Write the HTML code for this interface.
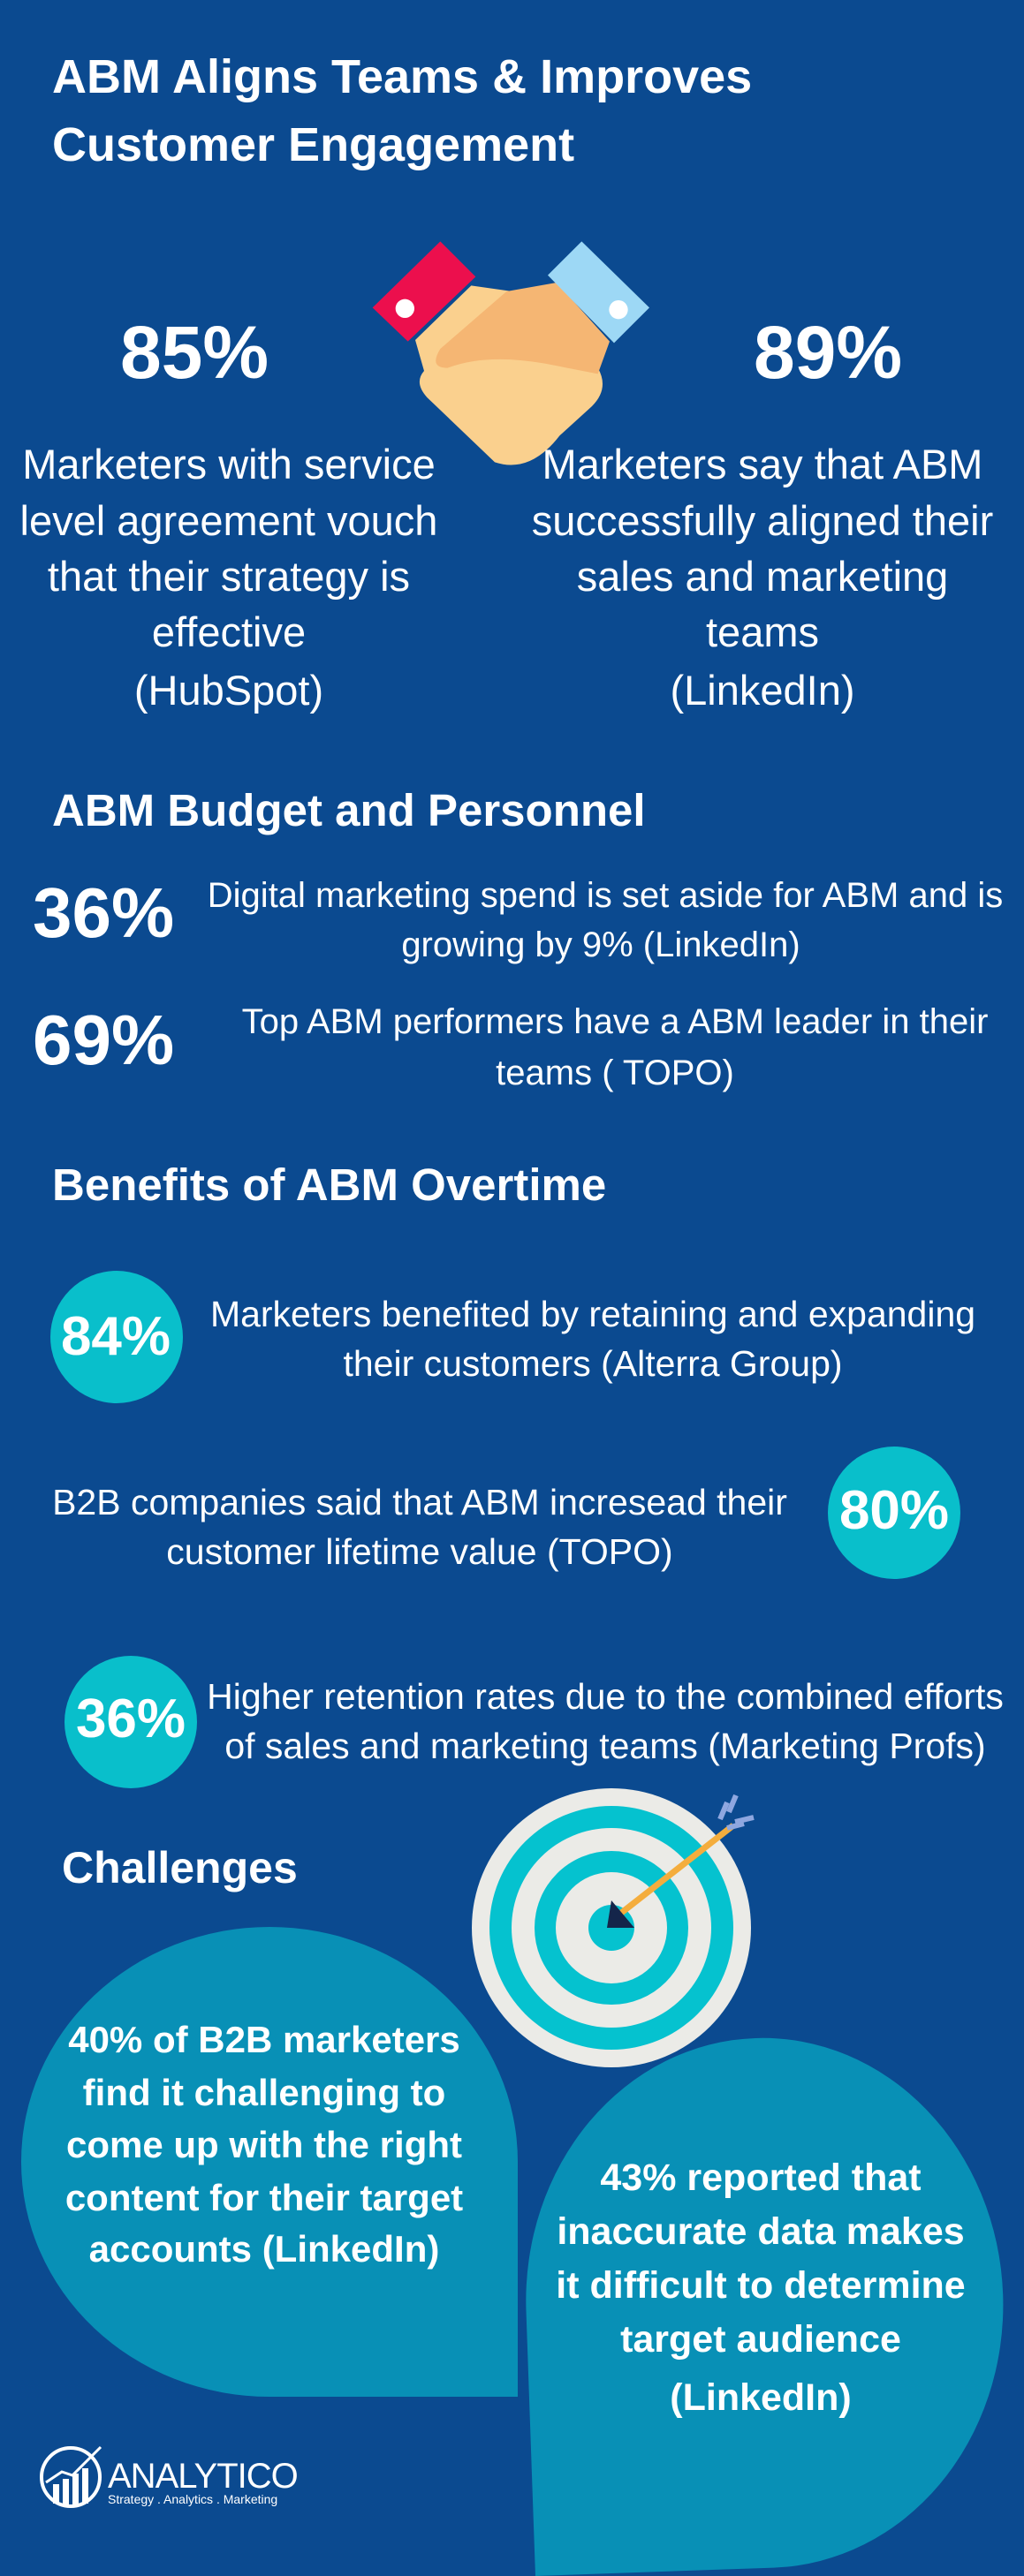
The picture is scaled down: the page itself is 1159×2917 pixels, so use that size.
<!DOCTYPE html>
<html><head><meta charset="utf-8"><style>
*{margin:0;padding:0}
body{width:1159px;height:2880px;background:#0b4a90;position:relative;overflow:hidden;font-family:"Liberation Sans",sans-serif;color:#fff}
.t{position:absolute;line-height:1;white-space:nowrap}
.c{text-align:center;width:1000px}
.b{font-weight:bold}
.circ{position:absolute;width:150px;height:150px;border-radius:50%;background:#09bfcb}
</style></head><body>

<div class="t b" style="left:59px;top:60px;font-size:54px">ABM Aligns Teams &amp; Improves</div>
<div class="t b" style="left:59px;top:137px;font-size:54px">Customer Engagement</div>

<svg style="position:absolute;left:400px;top:260px" width="360" height="280" viewBox="0 0 1080 840">
<path d="M210,375 L400,190 L540,210 L830,470 Q870,540 810,600 L700,700 Q600,830 480,790 L250,570 Q205,520 240,480 Z" fill="#fad08e"/>
<path d="M520,210 L690,180 L870,380 L830,490 L650,455 Q450,420 320,470 Q255,470 295,405 Z" fill="#f5b673"/>
<polygon points="295,40 415,160 185,380 65,265" fill="#ec0f4d"/>
<circle cx="175" cy="268" r="32" fill="#fff"/>
<polygon points="775,40 1005,265 885,385 660,155" fill="#9dd8f5"/>
<circle cx="900" cy="272" r="32" fill="#fff"/>
</svg>

<div class="t c" style="left:-280px;top:357px;font-size:84px;font-weight:bold">85%</div>
<div class="t c" style="left:437px;top:357px;font-size:84px;font-weight:bold">89%</div>

<div class="t c" style="left:-241px;top:502px;font-size:47px">Marketers with service</div>
<div class="t c" style="left:-241px;top:566px;font-size:47px">level agreement vouch</div>
<div class="t c" style="left:-241px;top:629px;font-size:47px">that their strategy is</div>
<div class="t c" style="left:-241px;top:692px;font-size:47px">effective</div>
<div class="t c" style="left:-241px;top:758px;font-size:47px">(HubSpot)</div>

<div class="t c" style="left:363px;top:502px;font-size:47px">Marketers say that ABM</div>
<div class="t c" style="left:363px;top:566px;font-size:47px">successfully aligned their</div>
<div class="t c" style="left:363px;top:629px;font-size:47px">sales and marketing</div>
<div class="t c" style="left:363px;top:692px;font-size:47px">teams</div>
<div class="t c" style="left:363px;top:758px;font-size:47px">(LinkedIn)</div>

<div class="t b" style="left:59px;top:892px;font-size:51px">ABM Budget and Personnel</div>
<div class="t b" style="left:37px;top:994px;font-size:80px">36%</div>
<div class="t c" style="left:185px;top:994px;font-size:40px">Digital marketing spend is set aside for ABM and is</div>
<div class="t c" style="left:180px;top:1050px;font-size:40px">growing by 9% (LinkedIn)</div>
<div class="t b" style="left:37px;top:1138px;font-size:80px">69%</div>
<div class="t c" style="left:196px;top:1137px;font-size:40px">Top ABM performers have a ABM leader in their</div>
<div class="t c" style="left:196px;top:1195px;font-size:40px">teams ( TOPO)</div>

<div class="t b" style="left:59px;top:1316px;font-size:51px">Benefits of ABM Overtime</div>

<div class="circ" style="left:57px;top:1439px"></div>
<div class="t c b" style="left:-369px;top:1483px;font-size:62px">84%</div>
<div class="t c" style="left:171px;top:1468px;font-size:41px">Marketers benefited by retaining and expanding</div>
<div class="t c" style="left:171px;top:1524px;font-size:41px">their customers (Alterra Group)</div>

<div class="circ" style="left:937px;top:1638px"></div>
<div class="t c b" style="left:512px;top:1680px;font-size:62px">80%</div>
<div class="t c" style="left:-25px;top:1681px;font-size:41px">B2B companies said that ABM incresead their</div>
<div class="t c" style="left:-25px;top:1737px;font-size:41px">customer lifetime value (TOPO)</div>

<div class="circ" style="left:73px;top:1875px"></div>
<div class="t c b" style="left:-352px;top:1916px;font-size:62px">36%</div>
<div class="t c" style="left:185px;top:1901px;font-size:41px">Higher retention rates due to the combined efforts</div>
<div class="t c" style="left:185px;top:1957px;font-size:41px">of sales and marketing teams (Marketing Profs)</div>

<div class="t b" style="left:70px;top:2090px;font-size:50px">Challenges</div>

<svg style="position:absolute;left:0;top:0" width="1159" height="2880">
<circle cx="692" cy="2183" r="158" fill="#ebebe7"/>
<circle cx="692" cy="2183" r="138" fill="#05c2cf"/>
<circle cx="692" cy="2183" r="113" fill="#ebebe7"/>
<circle cx="692" cy="2183" r="87" fill="#05c2cf"/>
<circle cx="692" cy="2183" r="63" fill="#ebebe7"/>
<circle cx="692" cy="2183" r="26" fill="#05c2cf"/>
<line x1="702" y1="2167" x2="830" y2="2067" stroke="#f4ad3d" stroke-width="7"/>
<path d="M815,2060 L823,2041 M823,2070 L842,2065 M825,2052 L833,2033 M832,2063 L853,2058" stroke="#8fa7e0" stroke-width="6"/>
<polygon points="692,2152 687,2183 718,2183" fill="#14254a"/>
</svg>

<div style="position:absolute;left:24px;top:2182px;width:562px;height:532px;background:#0890b6;border-radius:50% 50% 0 50%"></div>
<div style="position:absolute;left:606px;top:2317px;width:540px;height:600px;background:#0890b6;border-radius:50% 50% 50% 0;transform:rotate(-2deg);transform-origin:0 100%"></div>

<div class="t c b" style="left:-201px;top:2289px;font-size:42px">40% of B2B marketers</div>
<div class="t c b" style="left:-201px;top:2349px;font-size:42px">find it challenging to</div>
<div class="t c b" style="left:-201px;top:2408px;font-size:42px">come up with the right</div>
<div class="t c b" style="left:-201px;top:2468px;font-size:42px">content for their target</div>
<div class="t c b" style="left:-201px;top:2526px;font-size:42px">accounts (LinkedIn)</div>

<div class="t c b" style="left:361px;top:2445px;font-size:43px">43% reported that</div>
<div class="t c b" style="left:361px;top:2506px;font-size:43px">inaccurate data makes</div>
<div class="t c b" style="left:361px;top:2567px;font-size:43px">it difficult to determine</div>
<div class="t c b" style="left:361px;top:2628px;font-size:43px">target audience</div>
<div class="t c b" style="left:361px;top:2694px;font-size:43px">(LinkedIn)</div>

<svg style="position:absolute;left:40px;top:2765px" width="90" height="80" viewBox="0 0 90 80">
<circle cx="40" cy="40" r="33" fill="none" stroke="#fff" stroke-width="4"/>
<rect x="20" y="48" width="7" height="22" fill="#fff"/>
<rect x="31" y="42" width="7" height="30" fill="#fff"/>
<rect x="42" y="36" width="7" height="36" fill="#fff"/>
<rect x="53" y="30" width="7" height="40" fill="#fff"/>
<path d="M12,46 L30,34 L42,38 L74,6" stroke="#fff" stroke-width="3" fill="none"/>
</svg>
<div class="t" style="left:122px;top:2784px;font-size:40px;letter-spacing:-1px">ANALYTICO</div>
<div class="t" style="left:122px;top:2823px;font-size:14px">Strategy . Analytics . Marketing</div>

</body></html>
